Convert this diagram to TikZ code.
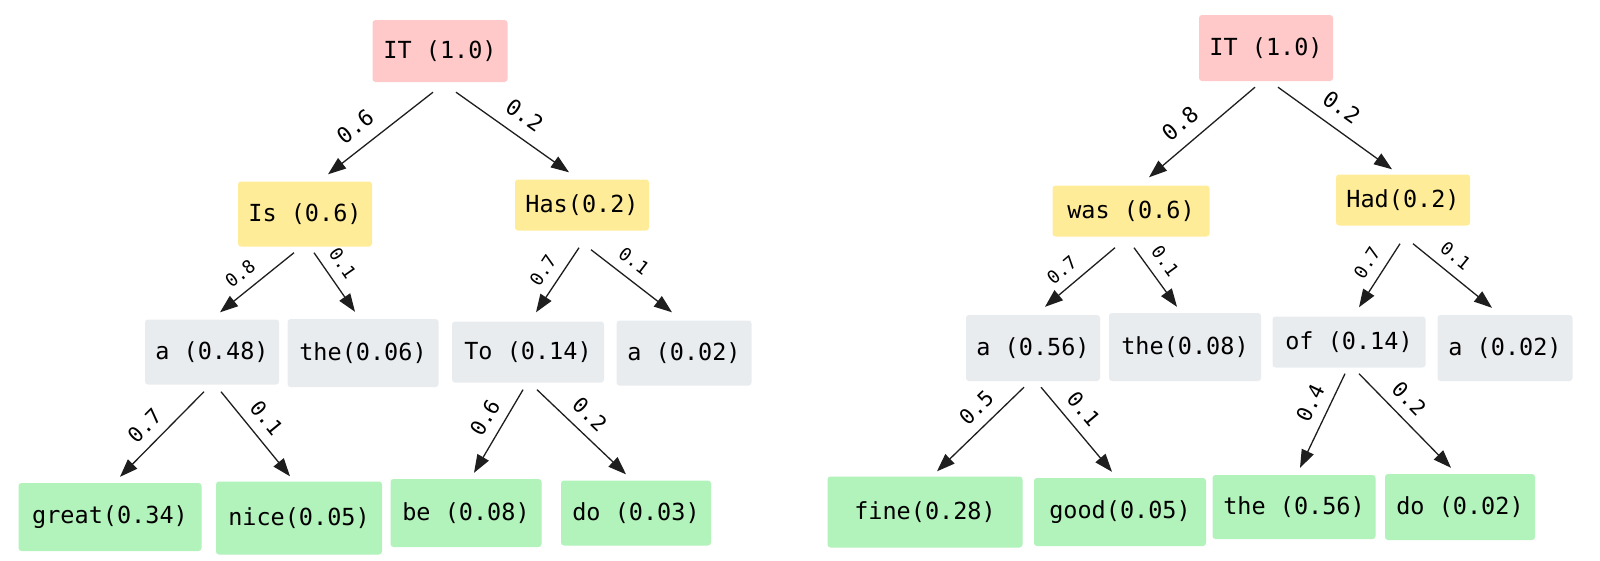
\documentclass[tikz,border=0pt]{standalone}
\usepackage{fontspec}
\newfontfamily\handfont{DejaVu Sans Mono}
\usetikzlibrary{arrows.meta,calc}
\definecolor{rootfill}{HTML}{FFC9C9}
\definecolor{lvlone}{HTML}{FFEC99}
\definecolor{lvltwo}{HTML}{E9ECEF}
\definecolor{leaffill}{HTML}{B2F2BB}
\definecolor{ink}{HTML}{1E1E1E}
\begin{document}
\begin{tikzpicture}[x=1pt,y=-1pt,
  box/.style={rounded corners=3pt, inner sep=0pt, text=black,
    font=\handfont\fontsize{23.5}{27}\selectfont},
  rootbox/.style={box, fill=rootfill},
  onebox/.style={box, fill=lvlone},
  twobox/.style={box, fill=lvltwo},
  leafbox/.style={box, fill=leaffill},
  arr/.style={draw=ink, line width=1.3pt, -{Triangle[length=18pt,width=13pt]}},
  lab/.style={sloped, above, inner sep=0pt, yshift=12pt, text=black,
    font=\handfont\fontsize{22}{25}\selectfont},
  labs/.style={sloped, above, inner sep=0pt, yshift=10pt, text=black,
    font=\handfont\fontsize{18}{20}\selectfont},
  labb/.style={sloped, above, inner sep=0pt, yshift=10pt, text=black,
    font=\handfont\fontsize{21}{24}\selectfont}]
\useasboundingbox (0,0) rectangle (1600,560);
\fill[white] (0,0) rectangle (1600,560);

% ---------- left tree ----------
\node[rootbox, minimum width=135pt, minimum height=62pt] (L0) at (440,51) {IT (1.0)};
\node[onebox, minimum width=134pt, minimum height=65pt] (L1a) at (305,214) {Is (0.6)};
\node[onebox, minimum width=134pt, minimum height=51pt] (L1b) at (582,205) {Has(0.2)};
\node[twobox, minimum width=134pt, minimum height=65pt] (L2a) at (212,352) {a (0.48)};
\node[twobox, minimum width=151pt, minimum height=68pt] (L2b) at (363,353) {the(0.06)};
\node[twobox, minimum width=152pt, minimum height=61pt] (L2c) at (528,352) {To (0.14)};
\node[twobox, minimum width=135pt, minimum height=65pt] (L2d) at (684,353) {a (0.02)};
\node[leafbox, minimum width=183pt, minimum height=68pt] (L3a) at (110,517) {great(0.34)};
\node[leafbox, minimum width=166pt, minimum height=73pt] (L3b) at (299,518) {nice(0.05)};
\node[leafbox, minimum width=151pt, minimum height=68pt] (L3c) at (466,513) {be (0.08)};
\node[leafbox, minimum width=150pt, minimum height=65pt] (L3d) at (636,513) {do (0.03)};

\draw[arr] ([shift={(-7pt,-10pt)}]L0.south) -- node[lab, pos=0.62] {0.6} ([shift={(23pt,7pt)}]L1a.north);
\draw[arr] ([shift={(16pt,-10pt)}]L0.south) -- node[lab, pos=0.5] {0.2} ([shift={(-13pt,7pt)}]L1b.north);
\draw[arr] ([shift={(-11pt,-6pt)}]L1a.south) -- node[labs, pos=0.58] {0.8} ([shift={(8pt,7pt)}]L2a.north);
\draw[arr] ([shift={(9pt,-6pt)}]L1a.south) -- node[labs, pos=0.35] {0.1} ([shift={(-8pt,7pt)}]L2b.north);
\draw[arr] ([shift={(-3pt,-17pt)}]L1b.south) -- node[labs, pos=0.5] {0.7} ([shift={(8pt,9pt)}]L2c.north);
\draw[arr] ([shift={(9pt,-19pt)}]L1b.south) -- node[labs, pos=0.4] {0.1} ([shift={(-12pt,8pt)}]L2d.north);
\draw[arr] ([shift={(-8pt,-7pt)}]L2a.south) -- node[labb, pos=0.55] {0.7} ([shift={(10pt,6pt)}]L3a.north);
\draw[arr] ([shift={(9pt,-7pt)}]L2a.south) -- node[labb, pos=0.45] {0.1} ([shift={(-9pt,5pt)}]L3b.north);
\draw[arr] ([shift={(-5pt,-7pt)}]L2c.south) -- node[labb, pos=0.45] {0.6} ([shift={(8pt,6pt)}]L3c.north);
\draw[arr] ([shift={(9pt,-7pt)}]L2c.south) -- node[labb, pos=0.45] {0.2} ([shift={(-10pt,6pt)}]L3d.north);

% ---------- right tree ----------
\node[rootbox, minimum width=134pt, minimum height=66pt] (R0) at (1266,48) {IT (1.0)};
\node[onebox, minimum width=157pt, minimum height=51pt] (R1a) at (1131,211) {was (0.6)};
\node[onebox, minimum width=134pt, minimum height=51pt] (R1b) at (1403,200) {Had(0.2)};
\node[twobox, minimum width=134pt, minimum height=66pt] (R2a) at (1033,348) {a (0.56)};
\node[twobox, minimum width=152pt, minimum height=68pt] (R2b) at (1185,347) {the(0.08)};
\node[twobox, minimum width=153pt, minimum height=51pt] (R2c) at (1349,342) {of (0.14)};
\node[twobox, minimum width=135pt, minimum height=66pt] (R2d) at (1505,348) {a (0.02)};
\node[leafbox, minimum width=195pt, minimum height=71pt] (R3a) at (925,512) {fine(0.28)};
\node[leafbox, minimum width=172pt, minimum height=68pt] (R3b) at (1120,512) {good(0.05)};
\node[leafbox, minimum width=163pt, minimum height=64pt] (R3c) at (1294,507) {the (0.56)};
\node[leafbox, minimum width=150pt, minimum height=66pt] (R3d) at (1460,507) {do (0.02)};

\draw[arr] ([shift={(-11pt,-6pt)}]R0.south) -- node[lab, pos=0.58] {0.8} ([shift={(18pt,8pt)}]R1a.north);
\draw[arr] ([shift={(12pt,-6pt)}]R0.south) -- node[lab, pos=0.45] {0.2} ([shift={(-11pt,5pt)}]R1b.north);
\draw[arr] ([shift={(-16pt,-11pt)}]R1a.south) -- node[labs, pos=0.6] {0.7} ([shift={(12pt,8pt)}]R2a.north);
\draw[arr] ([shift={(3pt,-11pt)}]R1a.south) -- node[labs, pos=0.4] {0.1} ([shift={(-8pt,6pt)}]R2b.north);
\draw[arr] ([shift={(-3pt,-18pt)}]R1b.south) -- node[labs, pos=0.45] {0.7} ([shift={(10pt,9pt)}]R2c.north);
\draw[arr] ([shift={(10pt,-18pt)}]R1b.south) -- node[labs, pos=0.4] {0.1} ([shift={(-13pt,7pt)}]R2d.north);
\draw[arr] ([shift={(-9pt,-6pt)}]R2a.south) -- node[labb, pos=0.4] {0.5} ([shift={(12pt,5pt)}]R3a.north);
\draw[arr] ([shift={(8pt,-6pt)}]R2a.south) -- node[labb, pos=0.4] {0.1} ([shift={(-8pt,6pt)}]R3b.north);
\draw[arr] ([shift={(-4pt,-6pt)}]R2c.south) -- node[labb, pos=0.4] {0.4} ([shift={(6pt,7pt)}]R3c.north);
\draw[arr] ([shift={(10pt,-6pt)}]R2c.south) -- node[labb, pos=0.4] {0.2} ([shift={(-9pt,6pt)}]R3d.north);
\end{tikzpicture}
\end{document}
